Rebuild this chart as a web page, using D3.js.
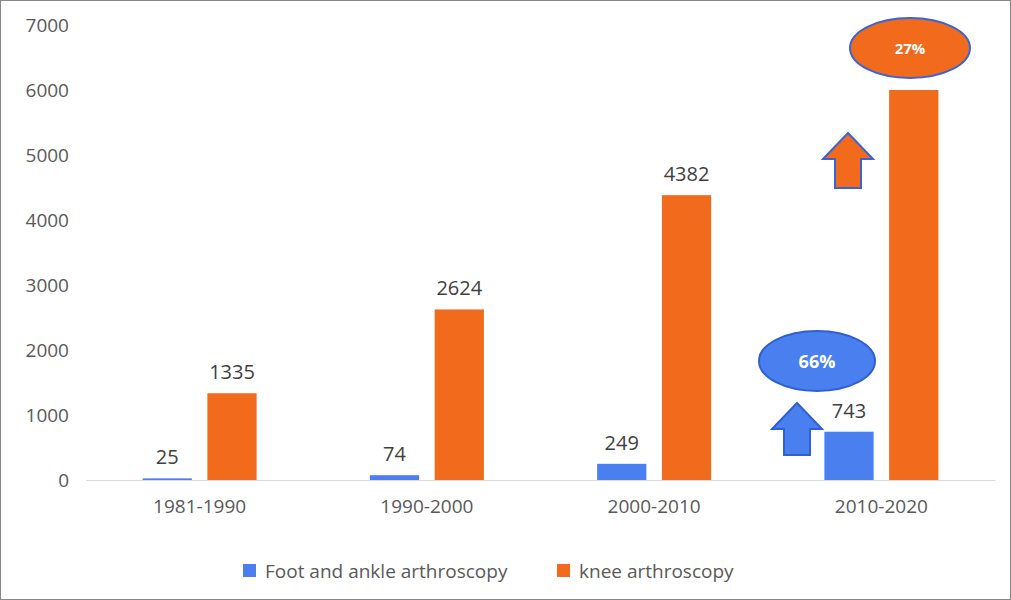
<!DOCTYPE html>
<html><head><meta charset="utf-8">
<script src="https://cdn.jsdelivr.net/npm/d3@7"></script>
<style>body{margin:0;background:#fff}svg{font-family:"Open Sans","Liberation Sans",sans-serif}</style>
</head><body>
<svg id="c" width="1011" height="600"></svg>
<script>
const categories = ["1981-1990","1990-2000","2000-2010","2010-2020"];
const footValues = [25, 74, 249, 743];
const kneeValues = [1335, 2624, 4382, 6000];
const footLabels = ["25","74","249","743"];
const kneeLabels = ["1335","2624","4382",""];
const yTicks = [0,1000,2000,3000,4000,5000,6000,7000];
const seriesNames = ["Foot and ankle arthroscopy","knee arthroscopy"];
const colors = ["#4a7ff0","#f26b1d"];

const svg = d3.select("#c");
svg.append("rect").attr("x",0.5).attr("y",0.5).attr("width",1010).attr("height",599).attr("fill","#fff").attr("stroke","#888");

const y = d3.scaleLinear().domain([0,7000]).range([480,25]);
const x = d3.scaleBand().domain(categories).range([86,995]);
const x1 = d3.scaleBand().domain([0,1]).range([x.bandwidth()/2-57, x.bandwidth()/2+57]).paddingInner(0.24);

const ya = svg.append("g").attr("transform","translate(72,0)").call(d3.axisLeft(y).tickValues(yTicks).tickSize(0).tickFormat(d3.format("d")));
ya.select(".domain").remove();
ya.selectAll("text").attr("font-size",19).attr("fill","#595959").attr("font-family","'Open Sans',sans-serif");

const xa = svg.append("g").attr("transform","translate(0,480)").call(d3.axisBottom(x).tickSize(0).tickPadding(20));
xa.select(".domain").attr("stroke","#d9d9d9");
xa.selectAll("text").attr("font-size",19).attr("fill","#595959").attr("font-family","'Open Sans',sans-serif");

const series = [footValues, kneeValues];
const labels = [footLabels, kneeLabels];
series.forEach((vals,si)=>{
  const g = svg.append("g");
  g.selectAll("rect").data(vals).join("rect")
    .attr("x",(d,i)=>x(categories[i])+x1(si)).attr("width",x1.bandwidth())
    .attr("y",d=>y(d)).attr("height",d=>y(0)-y(d)).attr("fill",colors[si]);
  g.selectAll("text").data(vals).join("text")
    .attr("x",(d,i)=>x(categories[i])+x1(si)+x1.bandwidth()/2)
    .attr("y",d=>y(d)-14).attr("text-anchor","middle")
    .attr("font-size",20).attr("fill","#404040")
    .text((d,i)=>labels[si][i]);
});

// annotations
function arrow(cx, top, bottom, fill, stroke){
  const hw=13, sw=25, hh=26;
  const p=[[cx-hw,bottom],[cx-hw,top+hh],[cx-sw,top+hh],[cx,top],[cx+sw,top+hh],[cx+hw,top+hh],[cx+hw,bottom]];
  svg.append("path").attr("d","M"+p.join("L")+"Z").attr("fill",fill).attr("stroke",stroke).attr("stroke-width",2);
}
arrow(797,403,455,"#4a7ff0","#2f5fd0");
arrow(848,133,188,"#f26b1d","#3a63d8");
svg.append("ellipse").attr("cx",817).attr("cy",361).attr("rx",58).attr("ry",30).attr("fill","#4a7ff0").attr("stroke","#2f5fd0").attr("stroke-width",2);
svg.append("text").attr("x",817).attr("y",368).attr("text-anchor","middle").attr("font-size",18).attr("font-weight","bold").attr("fill","#fff").text("66%");
svg.append("ellipse").attr("cx",910).attr("cy",48).attr("rx",60).attr("ry",30).attr("fill","#f26b1d").attr("stroke","#3a63d8").attr("stroke-width",2);
svg.append("text").attr("x",910).attr("y",54).attr("text-anchor","middle").attr("font-size",15).attr("font-weight","bold").attr("fill","#fff").text("27%");

// legend
const lg = [[243,265],[557,579]];
seriesNames.forEach((n,i)=>{
  svg.append("rect").attr("x",lg[i][0]).attr("y",564).attr("width",13).attr("height",13).attr("fill",colors[i]);
  svg.append("text").attr("x",lg[i][1]).attr("y",578).attr("font-size",19).attr("fill","#595959").text(n);
});
</script>
</body></html>
